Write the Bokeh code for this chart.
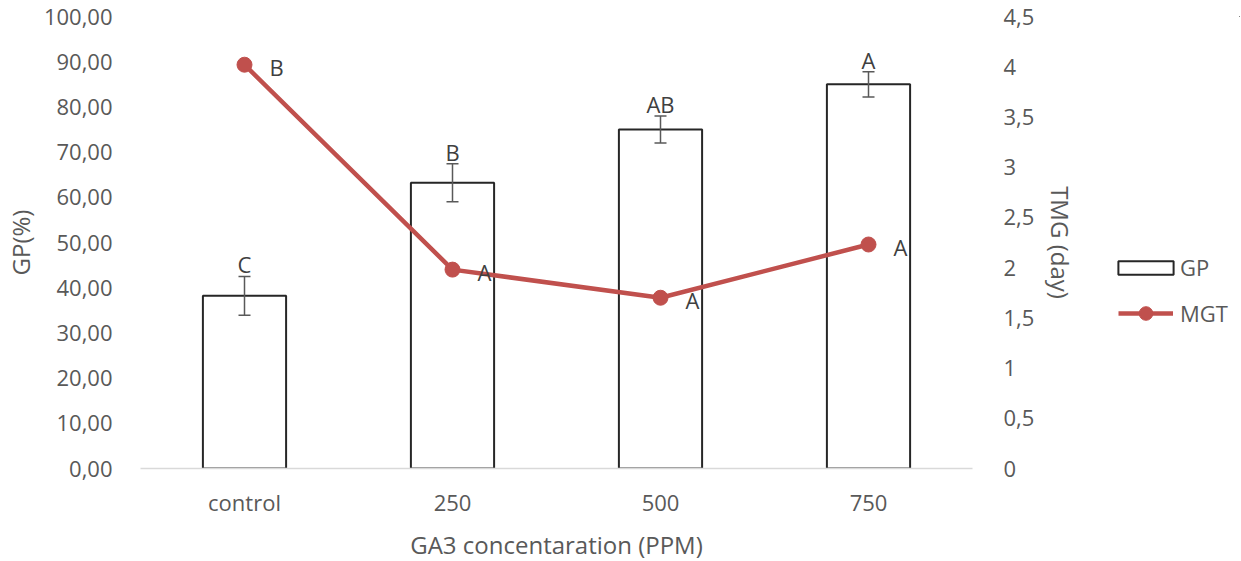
from bokeh.plotting import figure
from bokeh.layouts import row
from bokeh.models import (ColumnDataSource, Range1d, LinearAxis, Legend, LegendItem,
                          Whisker, TeeHead, FixedTicker, CustomJSTickFormatter)
from bokeh.core.properties import value
from bokeh.embed import file_html
from bokeh.resources import INLINE

categories = ["control", "250", "500", "750"]
gp = [38.2, 63.2, 75.0, 85.0]
gp_err = [4.3, 4.2, 3.0, 2.8]
gp_letters = ["C", "B", "AB", "A"]
mgt = [4.02, 1.98, 1.70, 2.23]
mgt_letters = ["B", "A", "A", "A"]

FONT = "Open Sans"
TXT = "#595959"
TICK_FS = "22px"
TITLE_FS = "24px"
BAR_LINE = "#262626"
MGT_COLOR = "#C0504D"

src = ColumnDataSource(dict(
    cat=categories, gp=gp,
    upper=[g + e for g, e in zip(gp, gp_err)],
    lower=[g - e for g, e in zip(gp, gp_err)],
    gpl=gp_letters, mgt=mgt, mgtl=mgt_letters,
))

p = figure(x_range=categories, y_range=Range1d(0, 100),
           frame_width=832, frame_height=452,
           output_backend="svg", toolbar_location=None,
           min_border_left=133, min_border_right=100, min_border_top=16, min_border_bottom=77)
p.outline_line_color = None
p.xgrid.grid_line_color = None
p.ygrid.grid_line_color = None
p.x_range.range_padding = 0

p.extra_y_ranges = {"mgt": Range1d(0, 4.5)}

bars = p.vbar(x="cat", top="gp", width=0.4, source=src, fill_color="white",
              line_color=BAR_LINE, line_width=2)

wh = Whisker(base="cat", upper="upper", lower="lower", source=src, level="annotation",
             line_color="#595959", line_width=1.5,
             upper_head=TeeHead(size=12, line_color="#595959", line_width=1.5),
             lower_head=TeeHead(size=12, line_color="#595959", line_width=1.5))
p.add_layout(wh)

p.text(x="cat", y="upper", text="gpl", source=src, text_align="center",
       text_baseline="bottom", y_offset=3, text_color="#404040",
       text_font=value(FONT), text_font_size=TICK_FS)

line = p.line(x="cat", y="mgt", source=src, y_range_name="mgt",
              line_color=MGT_COLOR, line_width=4.5)
pts = p.scatter(x="cat", y="mgt", source=src, y_range_name="mgt",
                size=15, fill_color=MGT_COLOR, line_color=MGT_COLOR)
p.text(x="cat", y="mgt", text="mgtl", source=src, y_range_name="mgt",
       text_align="left", text_baseline="middle", x_offset=25, y_offset=2,
       text_color="#404040", text_font=value(FONT), text_font_size=TICK_FS)

def style(ax):
    ax.major_tick_line_color = None
    ax.minor_tick_line_color = None
    ax.major_label_text_font = FONT
    ax.major_label_text_font_size = TICK_FS
    ax.major_label_text_color = TXT
    ax.axis_label_text_font = FONT
    ax.axis_label_text_font_size = TITLE_FS
    ax.axis_label_text_color = TXT
    ax.axis_label_text_font_style = "normal"

# x axis
xa = p.xaxis[0]
style(xa)
xa.axis_label = "GA3 concentaration (PPM)"
xa.axis_line_color = "#D9D9D9"
xa.axis_line_width = 1.5
xa.major_label_standoff = 12
xa.axis_label_standoff = 8

# left axis
ya = p.yaxis[0]
style(ya)
ya.axis_label = "GP(%)"
ya.ticker = FixedTicker(ticks=list(range(0, 101, 10)))
ya.formatter = CustomJSTickFormatter(code="return tick.toFixed(2).replace('.', ',');")
ya.axis_line_color = None
ya.major_label_standoff = 22
ya.axis_label_standoff = 4

# right axis
ra = LinearAxis(y_range_name="mgt", axis_label="TMG (day)",
                ticker=FixedTicker(ticks=[0, 0.5, 1, 1.5, 2, 2.5, 3, 3.5, 4, 4.5]),
                formatter=CustomJSTickFormatter(code="return String(tick).replace('.', ',');"))
style(ra)
ra.axis_line_color = None
ra.major_label_standoff = 25
ra.axis_label_standoff = 7
p.add_layout(ra, "right")

# legend panel (its proxy glyphs fall outside its own ranges, only the legend shows)
lp = figure(width=160, height=545, x_range=Range1d(0, 1), y_range=Range1d(0, 1),
            output_backend="svg", toolbar_location=None,
            min_border_left=0, min_border_right=0, min_border_top=0, min_border_bottom=0)
lp.outline_line_color = None
lp.axis.visible = False
lp.grid.visible = False
lg_bar = lp.vbar(x="mgt", top="gp", bottom="upper", width=0.4, source=src,
                 fill_color="white", line_color=BAR_LINE, line_width=2)
lg_line = lp.line(x="mgt", y="gp", source=src, line_color=MGT_COLOR, line_width=4.5)
lg_pts = lp.scatter(x="mgt", y="gp", source=src, fill_color=MGT_COLOR, line_color=MGT_COLOR)

common = dict(border_line_color=None, background_fill_alpha=0, padding=0, margin=0,
              label_text_font=FONT, label_text_font_size=TICK_FS, label_text_color=TXT)
leg_gp = Legend(items=[LegendItem(label="GP", renderers=[lg_bar])],
                location=(31, 168), glyph_width=69, glyph_height=17, label_standoff=0,
                **common)
leg_mgt = Legend(items=[LegendItem(label="MGT", renderers=[lg_line, lg_pts])],
                 location=(38, 120), glyph_width=55, glyph_height=34, label_standoff=7,
                 **common)
lp.add_layout(leg_gp)
lp.add_layout(leg_mgt)

open("out.html", "w").write(file_html(row(p, lp), INLINE))
